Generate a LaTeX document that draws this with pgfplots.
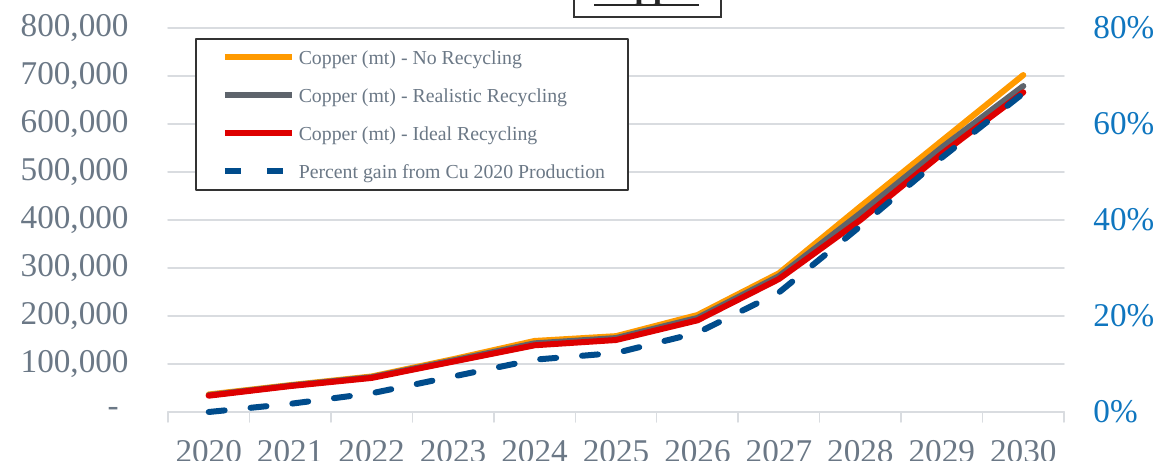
\documentclass[border=0pt]{standalone}
\usepackage{fontspec}
\setmainfont{Liberation Serif}
\usepackage{pgfplots}
\pgfplotsset{compat=1.18}

\definecolor{labelgray}{HTML}{6B7886}
\definecolor{axisblue}{HTML}{0F76BF}
\definecolor{gridgray}{HTML}{D9DCE0}
\definecolor{framegray}{HTML}{333333}
\definecolor{cuorange}{HTML}{FF9A00}
\definecolor{cugray}{HTML}{5E646C}
\definecolor{cured}{HTML}{DE0000}
\definecolor{cublue}{HTML}{004C8C}

\newcommand\ticksize{\fontsize{16.6}{19}\selectfont}
\newcommand\legendsize{\fontsize{9.9}{12}\selectfont}

% year index (0 = 2020), copper demand in metric tonnes
\pgfplotstableread{
idx none realistic ideal
0   36500  35000  34000
1   56000  55000  54000
2   74000  72500  71000
3   110000 107500 105000
4   148000 143000 139000
5   158000 154000 150000
6   202000 196000 191000
7   289000 283000 277000
8   428000 414000 400000
9   565000 551000 538000
10  702000 679000 666000
}\copperdata

% percent gain over 2020 copper production
\pgfplotstableread{
idx gain
0   0
1   1.7
2   3.9
3   7.4
4   10.9
5   12.3
6   16.5
7   24.9
8   38.7
9   53.0
10  66.4
}\gaindata

\begin{document}
\begin{tikzpicture}
\pgfplotsset{
  cuframe/.style={
    scale only axis, width=448pt, height=192pt,
    xmin=-0.5, xmax=10.5, ymin=0,
    at={(0pt,0pt)}, anchor=south west,
    clip=false,
    scaled y ticks=false,
    line join=round, line cap=round,
  },
}

% primary axis: tonnes
\begin{axis}[cuframe,
  ymax=800000,
  axis lines*=left,
  x axis line style={draw=gridgray, line width=0.75pt},
  y axis line style={draw=none},
  xtick={0,...,10},
  xticklabels={2020,2021,2022,2023,2024,2025,2026,2027,2028,2029,2030},
  minor xtick={-0.5,0.5,...,10.5},
  tick align=outside,
  major tick length=0pt,
  minor tick length=5pt,
  major tick style={draw=none},
  minor tick style={draw=gridgray, line width=0.75pt},
  ytick={0,100000,...,800000},
  yticklabels={{-\rule{5pt}{0pt}},{100,000},{200,000},{300,000},{400,000},{500,000},{600,000},{700,000},{800,000}},
  ymajorgrids,
  grid style={draw=gridgray, line width=0.75pt},
  ticklabel style={font=\ticksize, text=labelgray, inner sep=0pt},
  xticklabel style={anchor=north, yshift=-14pt},
  yticklabel style={anchor=east, xshift=-19.5pt},
]
\addplot[cuorange, line width=3pt] table[x=idx, y=none] {\copperdata};
\addplot[cugray, line width=3pt] table[x=idx, y=realistic] {\copperdata};
\addplot[cured, line width=3pt] table[x=idx, y=ideal] {\copperdata};
\end{axis}

% secondary axis: percent gain
\begin{axis}[cuframe,
  ymax=80,
  axis x line=none,
  axis y line*=right,
  y axis line style={draw=none},
  ytick={0,20,40,60,80},
  yticklabels={0\%,20\%,40\%,60\%,80\%},
  major tick length=0pt,
  major tick style={draw=none},
  ticklabel style={font=\ticksize, text=axisblue, inner sep=0pt},
  yticklabel style={anchor=west, xshift=14.5pt},
  legend cell align=left,
  legend style={
    at={(0.030134,0.973958)}, anchor=north west,
    draw=framegray, line width=0.75pt, fill=white,
    inner xsep=11.5pt, inner ysep=4.5pt,
    row sep=9.5pt, column sep=0.5pt,
    font=\legendsize, text=labelgray,
    nodes={inner sep=0pt, text height=8.5pt, text depth=1pt},
  },
  legend image code/.code={%
    \path (0pt,0pt) (36.5pt,0pt);
    \draw[#1] (1.5pt,0pt) -- (35pt,0pt);},
]
\addlegendimage{cuorange, line width=3pt}
\addlegendimage{cugray, line width=3pt}
\addlegendimage{cured, line width=3pt}
\addplot[cublue, line width=3pt, dash pattern=on 8pt off 13pt] table[x=idx, y=gain] {\gaindata};
\legend{Copper (mt) - No Recycling, Copper (mt) - Realistic Recycling, Copper (mt) - Ideal Recycling, Percent gain from Cu 2020 Production}
\end{axis}

% chart title in its frame
\draw[framegray, line width=0.75pt] (203pt,197.5pt) rectangle (276.5pt,230pt);
\node[anchor=base, inner sep=0pt, text=black!85] at (239.75pt,206.5pt) {\ticksize\bfseries Copper};
\draw[black!85, line width=1pt] (213pt,203.5pt) -- (265.5pt,203.5pt);

\pgfresetboundingbox
\path[use as bounding box] (-84pt,-24pt) rectangle (504pt,206pt);
\end{tikzpicture}
\end{document}
